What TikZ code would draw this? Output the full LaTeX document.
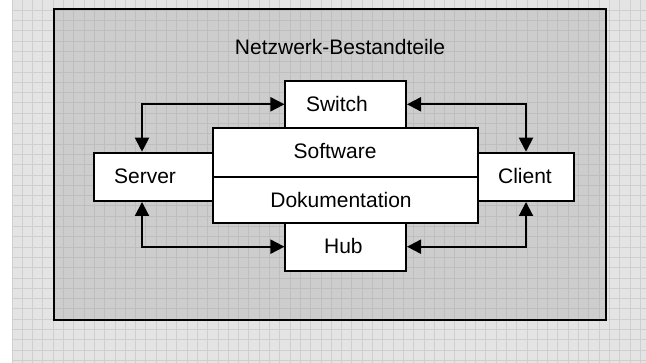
\documentclass[tikz,border=0pt]{standalone}
\usepackage{fontspec}
\setmainfont{Liberation Sans}
\usetikzlibrary{arrows.meta,calc}
\definecolor{bgpage}{HTML}{E4E4E4}
\definecolor{gridpage}{HTML}{CFCFCF}
\definecolor{bgframe}{HTML}{CDCDCD}
\definecolor{gridframe}{HTML}{BEBEBE}
\begin{document}
\begin{tikzpicture}[x=0.75pt,y=-0.75pt,
  box/.style={draw=black,line width=1.5pt,fill=white,inner sep=0pt},
  lbl/.style={font=\fontsize{15.75pt}{18pt}\selectfont,inner sep=0pt,text=black},
  arr/.style={line width=1.5pt,{Triangle[length=10.5pt,width=10.5pt]}-{Triangle[length=10.5pt,width=10.5pt]}},
  gridline/.style={line width=0.75pt}]
\useasboundingbox (0,0) rectangle (646,363);
% page background
\fill[white] (0,0) rectangle (646,363);
\fill[bgpage] (12,0) rectangle (646,363);
\foreach \i in {0,...,61} \draw[gridline,gridpage] (12+\i*10.3,0) -- (12+\i*10.3,363);
\foreach \j in {0,...,35} \draw[gridline,gridpage] (12,\j*10.3) -- (646,\j*10.3);
% frame
\fill[bgframe] (54,9) rectangle (606,320);
\begin{scope}
  \clip (54,9) rectangle (606,320);
  \foreach \i in {0,...,61} \draw[gridline,gridframe] (12+\i*10.3,0) -- (12+\i*10.3,363);
  \foreach \j in {0,...,35} \draw[gridline,gridframe] (12,\j*10.3) -- (646,\j*10.3);
\end{scope}
\draw[line width=1.6pt] (54,9) rectangle (606,320);
\node[lbl] (title) at (340,46.7) {Netzwerk-Bestandteile};
% boxes
\node[box,minimum width=89.25pt,minimum height=36.2pt] (server) at (153.5,176.85) {};
\node[box,minimum width=72pt,minimum height=36.2pt] (client) at (526,176.85) {};
\node[box,minimum width=90.4pt,minimum height=35.5pt] (switch) at (345.75,104.3) {};
\node[box,minimum width=90.4pt,minimum height=36pt] (hub) at (345.75,246.7) {};
\node[box,minimum width=198.75pt,minimum height=36.5pt] (software) at (345.5,152.35) {};
\node[box,minimum width=198.75pt,minimum height=34.5pt] (doku) at (345.5,199.7) {};
% labels
\node[lbl] (tserver) at (145,176) {Server};
\node[lbl] (tclient) at (525,176) {Client};
\node[lbl] (tswitch) at (337,104) {Switch};
\node[lbl] (thub) at (343.4,246) {Hub};
\node[lbl] (tsoftware) at (335,151.5) {Software};
\node[lbl] (tdoku) at (341,199.5) {Dokumentation};
% connectors
\draw[arr] ([xshift=-8.625pt]server.north) |- (switch.west);
\draw[arr] (client.north) |- (switch.east);
\draw[arr] ([xshift=-8.625pt]server.south) |- (hub.west);
\draw[arr] (client.south) |- (hub.east);
\end{tikzpicture}
\end{document}
